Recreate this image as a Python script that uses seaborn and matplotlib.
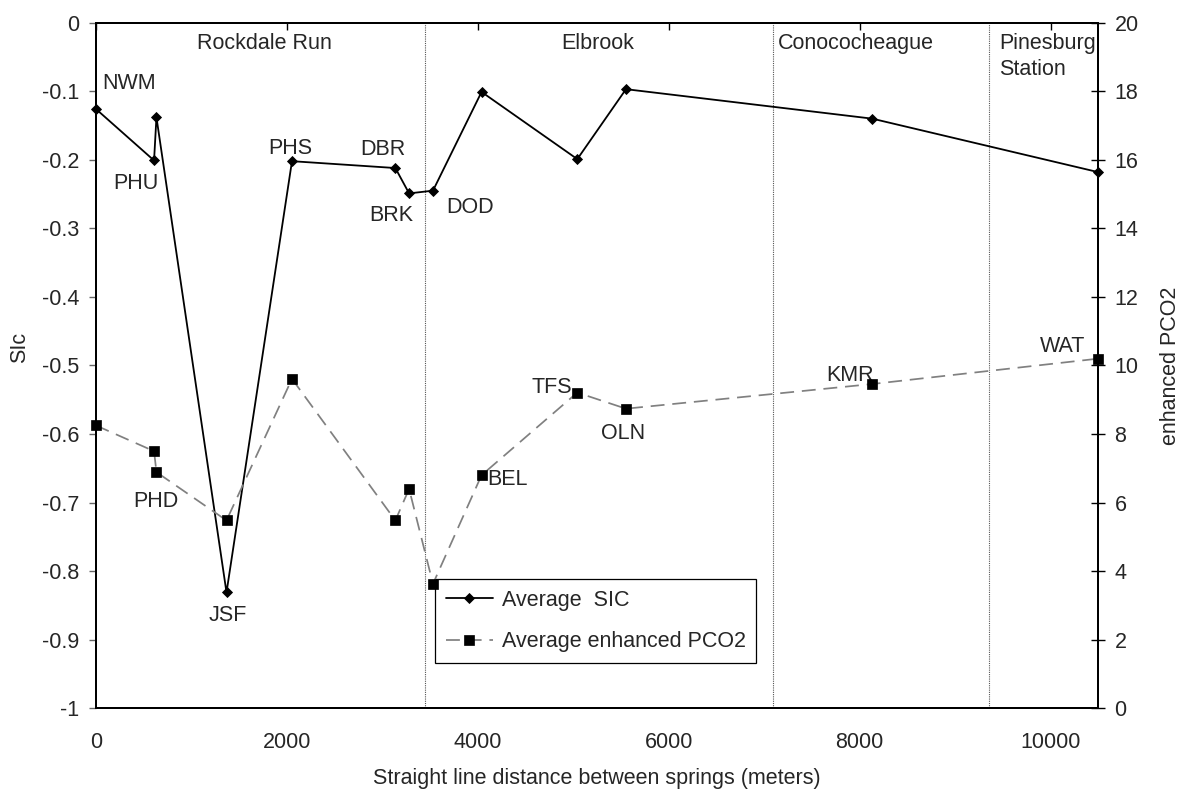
import matplotlib
matplotlib.use("Agg")
import matplotlib.pyplot as plt
from matplotlib.ticker import FixedLocator, FuncFormatter
import seaborn as sns

# Spring sites along the transect
sites = ["NWM", "PHU", "PHD", "JSF", "PHS", "DBR", "BRK", "DOD",
         "BEL", "TFS", "OLN", "KMR", "WAT"]
distance_m = [0, 608, 633, 1367, 2053, 3136, 3280, 3530,
              4039, 5042, 5552, 8133, 10500]
avg_sic = [-0.126, -0.201, -0.138, -0.831, -0.202, -0.212, -0.249, -0.245,
           -0.101, -0.199, -0.097, -0.140, -0.218]
avg_pco2 = [8.25, 7.50, 6.89, 5.48, 9.61, 5.48, 6.40, 3.63,
            6.80, 9.21, 8.74, 9.46, 10.20]

# Geologic formations crossed by the transect and their contacts
formations = ["Rockdale Run", "Elbrook", "Conococheague", "Pinesburg\nStation"]
formation_contacts = [3444, 7088, 9354]
formation_label_x = [1059, 4878, 7144, 9462]

sic_ticks = [-1.0, -0.9, -0.8, -0.7, -0.6, -0.5, -0.4, -0.3, -0.2, -0.1, 0.0]
pco2_ticks = [0, 2, 4, 6, 8, 10, 12, 14, 16, 18, 20]
distance_ticks = [0, 2000, 4000, 6000, 8000, 10000]

sns.set_style("white")
plt.rcParams["font.family"] = ["Liberation Sans", "DejaVu Sans"]
plt.rcParams["axes.unicode_minus"] = False
FS = 15.5

fig = plt.figure(figsize=(11.84, 7.93), dpi=100)
ax = fig.add_axes([0.0811, 0.1068, 0.8465, 0.8646])
ax2 = ax.twinx()

sns.lineplot(x=distance_m, y=avg_sic, ax=ax, color="black", lw=1.3,
             marker="D", markersize=5, markeredgecolor="black",
             markeredgewidth=0.6, label="Average  SIC", sort=False,
             clip_on=False, zorder=6)
sns.lineplot(x=distance_m, y=avg_pco2, ax=ax2, color="#808080", lw=1.25,
             linestyle=(0, (8, 4.5)), marker="s", markersize=7.5,
             markerfacecolor="black", markeredgecolor="black",
             markeredgewidth=0.5, label="Average enhanced PCO2", sort=False,
             clip_on=False, zorder=6)

ax.set_xlim(0, 10500)
ax.set_ylim(-1, 0)
ax2.set_ylim(0, 20)

# Formation boundaries and names
for xc in formation_contacts:
    ax.axvline(xc, color="#555555", lw=0.8, linestyle=(0, (1, 1)), zorder=1)
for name, xl in zip(formations, formation_label_x):
    ax.text(xl, -0.015, name, ha="left", va="top", fontsize=FS,
            linespacing=1.3)

# Site labels: (series, dx, dy) in pixels from the marker
label_place = {
    "NWM": ("sic", 33, 26), "PHU": ("sic", -18, -23), "PHD": ("pco2", -1, -29),
    "JSF": ("sic", 1, -23), "PHS": ("sic", -2, 13), "DBR": ("sic", -12, 19),
    "BRK": ("sic", -18, -22), "DOD": ("sic", 37, -17), "BEL": ("pco2", 26, -4),
    "TFS": ("pco2", -25, 5), "OLN": ("pco2", -3, -25), "KMR": ("pco2", -22, 9),
    "WAT": ("pco2", -36, 12),
}
for i, s in enumerate(sites):
    series, dx, dy = label_place[s]
    if series == "sic":
        target, yv = ax, avg_sic[i]
    else:
        target, yv = ax2, avg_pco2[i]
    target.annotate(s, xy=(distance_m[i], yv), xytext=(dx, dy),
                    textcoords="offset pixels", ha="center", va="center",
                    fontsize=FS, annotation_clip=False)

# Axes styling
for a in (ax, ax2):
    for sp in a.spines.values():
        sp.set_visible(True)
        sp.set_color("black")
        sp.set_linewidth(1.4)

ax.xaxis.set_major_locator(FixedLocator(distance_ticks))
ax.tick_params(axis="x", top=True, bottom=False, labeltop=False,
               labelbottom=True, direction="in", length=5, width=1,
               color="black", pad=17, labelsize=FS)
ax.yaxis.set_major_locator(FixedLocator(sic_ticks))
ax.yaxis.set_major_formatter(
    FuncFormatter(lambda v, _: "0" if abs(v) < 1e-9 else f"{v:.1f}".rstrip("0").rstrip(".")))
ax.tick_params(axis="y", left=True, right=False, direction="out", length=5,
               width=1, color="#666666", pad=7, labelsize=FS)
ax2.yaxis.set_major_locator(FixedLocator(pco2_ticks))
ax2.tick_params(axis="y", right=True, left=False, direction="inout",
                length=9.5, width=1, color="black", pad=7, labelsize=FS)

ax.set_xlabel("Straight line distance between springs (meters)", fontsize=FS)
ax.xaxis.set_label_coords(0.5, -0.102)
ax.xaxis.label.set_va("center")
ax.set_ylabel("SIc", fontsize=FS)
ax.yaxis.set_label_coords(-0.076, 0.527)
ax.yaxis.label.set_va("center")
ax2.set_ylabel("enhanced PCO2", fontsize=FS, rotation=90)
ax2.yaxis.set_label_coords(1.0725, 0.5)
ax2.yaxis.label.set_va("center")

# Combined legend
h1, l1 = ax.get_legend_handles_labels()
h2, l2 = ax2.get_legend_handles_labels()
if ax.get_legend() is not None:
    ax.get_legend().remove()
leg = ax2.legend(h1 + h2, l1 + l2, loc="upper left",
                 bbox_to_anchor=(0.338, 0.1886), borderaxespad=0,
                 fontsize=FS, frameon=True, fancybox=False, shadow=False,
                 framealpha=1, edgecolor="black", handlelength=2.2,
                 labelspacing=0.95, borderpad=0.5, handletextpad=0.4)
leg.get_frame().set_linewidth(0.9)
leg.set_zorder(5)

fig.savefig("out.png", dpi=100)
